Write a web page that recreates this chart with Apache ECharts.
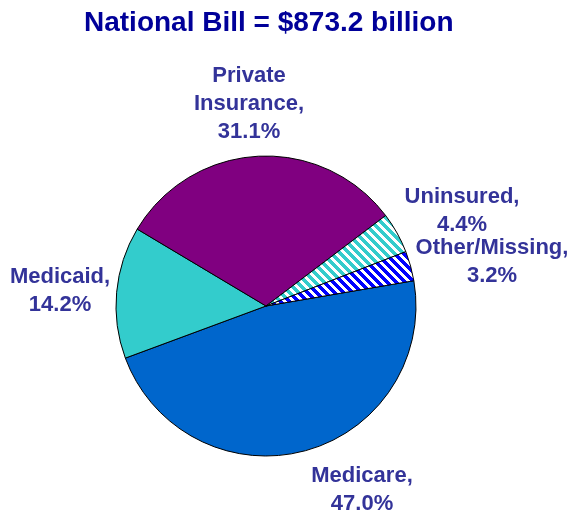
<!DOCTYPE html>
<html>
<head>
<meta charset="utf-8">
<script src="https://cdn.jsdelivr.net/npm/echarts@6/dist/echarts.min.js"></script>
<style>
html, body { margin: 0; padding: 0; background: #ffffff; }
#chart { width: 569px; height: 512px; }
</style>
</head>
<body>
<div id="chart"></div>
<script>
// ---- Data ----
const titleText = 'National Bill = $873.2 billion';
const categories = ['Medicare', 'Medicaid', 'Private\nInsurance', 'Uninsured', 'Other/Missing'];
const shares = [47.0, 14.2, 31.1, 4.4, 3.2];

// ---- Styles / layout ----
const FONT = '"Liberation Sans", Arial, Helvetica, sans-serif';
const labelColor = '#333399';
const labelCenters = [[362, 490], [60, 291], [249, 104], [462, 211], [492, 262]];

function stripePattern(base) {
  const size = 9;
  const c = document.createElement('canvas');
  c.width = size; c.height = size;
  const ctx = c.getContext('2d');
  ctx.fillStyle = base;
  ctx.fillRect(0, 0, size, size);
  ctx.fillStyle = '#ffffff';
  for (let y = 0; y < size; y++) {
    for (let x = 0; x < size; x++) {
      const k = ((x - y) % size + size) % size;
      if (k < 4) ctx.fillRect(x, y, 1, 1);
    }
  }
  return { image: c, repeat: 'repeat' };
}

const fills = ['#0066CC', '#33CCCC', '#800080', stripePattern('#33CCCC'), stripePattern('#0000FF')];

const chart = echarts.init(document.getElementById('chart'), null, { renderer: 'canvas' });
chart.setOption({
  backgroundColor: '#ffffff',
  animation: false,
  title: {
    text: titleText,
    left: 84,
    top: 9,
    padding: 0,
    textStyle: { fontFamily: FONT, fontSize: 28, fontWeight: 'bold', color: '#000099' }
  },
  series: [{
    type: 'pie',
    center: [266, 306],
    radius: [0, 150],
    startAngle: 9.7,
    clockwise: true,
    avoidLabelOverlap: false,
    data: categories.map((n, i) => ({
      name: n,
      value: shares[i],
      itemStyle: { color: fills[i] }
    })),
    itemStyle: { borderColor: '#000000', borderWidth: 1 },
    label: {
      show: true,
      position: 'outside',
      formatter: p => p.name + ',\n' + p.value.toFixed(1) + '%',
      fontFamily: FONT,
      fontSize: 22,
      fontWeight: 'bold',
      color: labelColor,
      lineHeight: 28,
      align: 'center'
    },
    labelLine: { show: false },
    labelLayout: function (params) {
      const c = labelCenters[params.dataIndex];
      return { x: c[0], y: c[1], align: 'center', verticalAlign: 'middle' };
    },
    emphasis: { disabled: true }
  }]
});
</script>
</body>
</html>
